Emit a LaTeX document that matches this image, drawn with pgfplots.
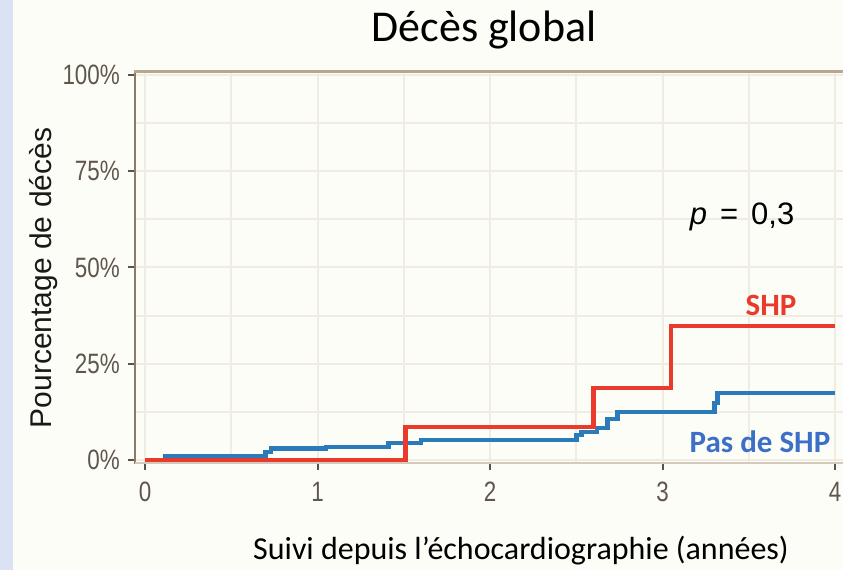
\documentclass[border=0pt]{standalone}
\usepackage{pgfplots}
\pgfplotsset{compat=1.18}
\usepackage{fontspec}
\setmainfont{Carlito}
\newfontfamily\arialfont{Liberation Sans}
\newfontfamily\tickfont[FakeStretch=0.8]{Liberation Sans}
\definecolor{bg}{HTML}{FDFDF7}
\definecolor{strip}{HTML}{DAE2F3}
\definecolor{gridc}{HTML}{F1ECE1}
\definecolor{axisc}{HTML}{8C7B68}
\definecolor{topc}{HTML}{B8A78F}
\definecolor{tickc}{HTML}{5C5249}
\definecolor{labc}{HTML}{5F564C}
\definecolor{redc}{HTML}{EA3A2B}
\definecolor{bluec}{HTML}{2B7BBA}
\definecolor{bluet}{HTML}{3C6FC8}
\definecolor{greenc}{HTML}{5DAA5A}
\begin{document}
\begin{tikzpicture}[x=1pt,y=1pt]
\fill[bg] (-135,-107) rectangle (708,463);
\fill[strip] (-135,-107) rectangle (-122,463);
\begin{axis}[scale only axis, width=708pt, height=391pt,
  xmin=-0.058, xmax=4.046, ymin=-0.8, ymax=100.8,
  axis line style={draw=none},
  xtick={0,1,2,3,4}, xticklabels={0,1,2,3,4},
  ytick={0,25,50,75,100}, yticklabels={0\%,25\%,50\%,75\%,100\%},
  minor xtick={0.5,1.5,2.5,3.5}, minor ytick={12.5,37.5,62.5,87.5},
  grid=both,
  major grid style={gridc, line width=2pt},
  minor grid style={gridc, line width=2pt},
  minor tick length=0pt, major tick length=7pt, tick align=outside,
  xtick pos=bottom, ytick pos=left,
  major tick style={tickc, line width=2pt},
  tick label style={font=\tickfont\fontsize{28}{30}\selectfont, text=labc, inner sep=0pt},
  yticklabel style={anchor=east, xshift=-8pt},
  xticklabel style={anchor=north, yshift=-12pt},
]
\addplot[greenc, line width=1pt] coordinates {(0,-0.5) (1.51,-0.5)};
\addplot[const plot, bluec, line width=4.6pt] coordinates {
  (0,0) (0.12,1.0) (0.70,2.1) (0.73,2.9) (1.05,3.4) (1.41,4.4) (1.60,5.2)
  (2.50,6.5) (2.53,7.3) (2.62,8.3) (2.68,10.6) (2.74,12.5) (3.30,14.8)
  (3.32,17.4) (4.0,17.4)};
\addplot[const plot, redc, line width=4.6pt] coordinates {
  (0,0) (1.51,8.6) (2.60,18.7) (3.05,34.8) (4.0,34.8)};
\end{axis}
\draw[axisc, line width=2.5pt] (0,-1) -- (0,392);
\draw[topc, line width=3pt] (-1.25,391) -- (708,391);
\draw[gridc!70!axisc, line width=1.2pt] (0,0) -- (708,0);
\node[anchor=base, font=\fontsize{44}{50}\selectfont] at (349,421) {Décès global};
\node[anchor=base, font=\fontsize{32}{36}\selectfont] at (386,-96) {Suivi depuis l’échocardiographie (années)};
\node[anchor=base, rotate=90, font=\arialfont\fontsize{30}{34}\selectfont, text=black!90] at (-83,185) {Pourcentage de décès};
\node[anchor=base, font=\arialfont\fontsize{31}{34}\selectfont] at (607,238) {\textit{p}\hspace{0.42em}=\hspace{0.42em}0,3};
\node[anchor=base, font=\bfseries\fontsize{31}{34}\selectfont, text=redc] at (636,147) {SHP};
\node[anchor=base, font=\bfseries\fontsize{31}{34}\selectfont, text=bluet] at (625,10) {Pas de SHP};
\pgfresetboundingbox
\path[use as bounding box] (-135,-107) rectangle (708,463);
\end{tikzpicture}
\end{document}
